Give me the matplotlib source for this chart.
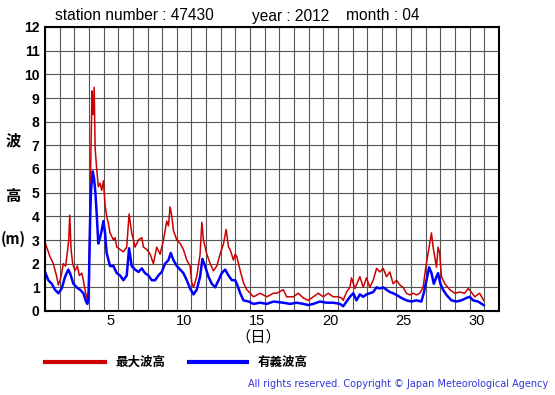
import numpy as np
import matplotlib.pyplot as plt

plt.rcParams['font.family'] = ['Liberation Sans', 'Noto Sans CJK JP', 'DejaVu Sans']

# days since 1 April 00:00 and wave heights (m)
max_day = [0.00, 0.34, 0.57, 0.80, 0.91, 1.03, 1.14, 1.25, 1.41, 1.55, 1.62, 1.69, 1.78,
           1.89, 2.05, 2.21, 2.35, 2.51, 2.62, 2.73, 2.85, 2.96, 3.03, 3.10, 3.16, 3.21,
           3.28, 3.36, 3.42, 3.53, 3.64, 3.76, 3.87, 3.99, 4.10, 4.21, 4.33, 4.44, 4.67,
           4.78, 4.90, 5.13, 5.35, 5.58, 5.74, 5.92, 6.04, 6.15, 6.38, 6.61, 6.72, 6.95,
           7.18, 7.40, 7.63, 7.86, 8.09, 8.31, 8.43, 8.54, 8.66, 8.77, 9.00, 9.23, 9.45,
           9.68, 9.91, 10.02, 10.14, 10.36, 10.59, 10.71, 10.82, 11.05, 11.28, 11.50,
           11.73, 11.96, 12.19, 12.37, 12.53, 12.64, 12.87, 12.98, 13.10, 13.33, 13.55,
           13.78, 14.01, 14.24, 14.69, 15.15, 15.60, 15.82, 16.27, 16.50, 16.95, 17.30,
           17.64, 17.98, 18.32, 18.66, 19.00, 19.34, 19.68, 20.02, 20.25, 20.36, 20.59,
           20.82, 20.93, 21.16, 21.50, 21.73, 21.95, 22.18, 22.41, 22.64, 22.86, 23.09,
           23.32, 23.55, 23.77, 24.00, 24.23, 24.45, 24.68, 24.91, 25.14, 25.36, 25.59,
           25.82, 26.00, 26.16, 26.27, 26.39, 26.50, 26.61, 26.73, 26.84, 26.95, 27.07,
           27.30, 27.64, 27.98, 28.32, 28.66, 28.89, 29.11, 29.34, 29.68, 29.95]
max_height = [2.9, 2.3, 2.0, 1.45, 1.1, 1.3, 1.6, 2.0, 1.9, 2.6, 3.0, 4.05, 2.6,
              2.0, 1.7, 1.9, 1.5, 1.6, 1.3, 0.9, 0.55, 0.8, 2.5, 5.5, 7.5, 9.3,
              8.3, 9.45, 6.9, 6.0, 5.25, 5.4, 5.1, 5.5, 4.5, 4.0, 3.7, 3.3, 3.0,
              3.1, 2.7, 2.6, 2.5, 2.7, 4.1, 3.3, 3.0, 2.7, 3.0, 3.1, 2.7, 2.6,
              2.4, 2.0, 2.7, 2.4, 3.0, 3.8, 3.6, 4.4, 4.0, 3.4, 3.0, 2.85, 2.6,
              2.15, 1.9, 1.2, 1.0, 1.45, 2.4, 3.75, 3.0, 2.4, 2.0, 1.7,
              1.9, 2.4, 2.85, 3.45, 2.7, 2.6, 2.15, 2.4, 2.3, 1.7, 1.2,
              0.9, 0.75, 0.6, 0.75, 0.6, 0.75, 0.75, 0.9, 0.6, 0.6, 0.75,
              0.55, 0.45, 0.6, 0.75, 0.6, 0.75, 0.6, 0.6, 0.55, 0.45, 0.8,
              1.0, 1.4, 0.95, 1.45, 1.0, 1.4, 1.0, 1.3, 1.8, 1.65, 1.8,
              1.45, 1.65, 1.15, 1.3, 1.1, 1.0, 0.75, 0.68, 0.75, 0.68, 0.75,
              1.0, 1.85, 2.45, 2.85, 3.3, 2.7, 2.3, 1.85, 2.7, 2.45, 1.45,
              1.15, 0.9, 0.75, 0.8, 0.75, 0.95, 0.8, 0.6, 0.75, 0.45]

sig_day = [0.00, 0.23, 0.46, 0.68, 0.91, 1.14, 1.37, 1.59, 1.71, 1.94, 2.16, 2.39, 2.62,
           2.80, 2.89, 2.98, 3.08, 3.14, 3.26, 3.35, 3.44, 3.53, 3.64, 3.76, 3.87, 3.99,
           4.10, 4.21, 4.44, 4.67, 4.90, 5.13, 5.35, 5.58, 5.74, 5.92, 6.15, 6.38, 6.61,
           6.83, 7.06, 7.29, 7.52, 7.74, 7.97, 8.20, 8.43, 8.59, 8.77, 9.00, 9.23, 9.45,
           9.68, 9.91, 10.14, 10.36, 10.59, 10.75, 10.93, 11.16, 11.39, 11.62, 11.85,
           12.07, 12.30, 12.53, 12.76, 12.98, 13.10, 13.33, 13.55, 13.90, 14.24, 14.69,
           15.15, 15.60, 16.27, 16.73, 17.18, 17.64, 17.98, 18.32, 18.77, 19.23, 19.68,
           20.14, 20.36, 20.59, 20.82, 21.05, 21.27, 21.50, 21.73, 21.95, 22.18, 22.41,
           22.64, 22.86, 23.09, 23.32, 23.55, 23.77, 24.00, 24.34, 24.68, 25.02, 25.36,
           25.70, 25.86, 26.05, 26.23, 26.39, 26.55, 26.73, 26.84, 27.00, 27.18, 27.41,
           27.75, 28.09, 28.43, 28.77, 29.00, 29.23, 29.57, 29.95]
sig_height = [1.65, 1.3, 1.15, 0.9, 0.75, 0.95, 1.45, 1.75, 1.6, 1.15, 1.0, 0.9, 0.75,
              0.4, 0.3, 0.6, 3.8, 5.1, 5.9, 5.6, 5.0, 4.1, 2.85, 3.1, 3.4, 3.8,
              3.3, 2.45, 1.9, 1.9, 1.6, 1.5, 1.3, 1.5, 2.65, 1.9, 1.75, 1.65, 1.8,
              1.6, 1.5, 1.3, 1.3, 1.5, 1.65, 2.0, 2.15, 2.45, 2.15, 1.9, 1.75, 1.6,
              1.3, 0.95, 0.7, 0.9, 1.45, 2.2, 1.9, 1.45, 1.15, 1.0, 1.3,
              1.6, 1.75, 1.5, 1.3, 1.3, 1.15, 0.75, 0.45, 0.4, 0.3, 0.35,
              0.3, 0.4, 0.35, 0.3, 0.35, 0.3, 0.25, 0.3, 0.4, 0.35, 0.35,
              0.3, 0.2, 0.4, 0.6, 0.75, 0.45, 0.7, 0.6, 0.7, 0.75, 0.8,
              1.0, 0.95, 1.0, 0.9, 0.8, 0.75, 0.68, 0.55, 0.45, 0.4, 0.45,
              0.4, 0.75, 1.3, 1.85, 1.6, 1.15, 1.45, 1.6, 1.15, 0.9, 0.68,
              0.45, 0.4, 0.45, 0.55, 0.6, 0.45, 0.4, 0.25]

day_labels = ["5", "10", "15", "20", "25", "30"]
day_label_pos = [4.5, 9.5, 14.5, 19.5, 24.5, 29.5]

fig = plt.figure(figsize=(5.55, 3.95), dpi=100)
ax = fig.add_axes([45 / 555, 1 - 311 / 395, 454 / 555, 284 / 395])

ax.plot(max_day, max_height, color="#cc0000", linewidth=1.1)
ax.plot(sig_day, sig_height, color="#0000ff", linewidth=1.8)

ax.set_xlim(0, 31)
ax.set_ylim(0, 12)
ax.set_xticks(day_label_pos)
ax.set_xticklabels(day_labels, fontsize=10.5)
ax.set_xticks(np.arange(0, 32), minor=True)
ax.set_yticks(np.arange(0, 13))
ax.set_yticklabels([str(v) for v in range(13)], fontsize=10, fontweight="bold")
ax.tick_params(which="both", length=0)
ax.tick_params(axis="x", pad=2)
ax.tick_params(axis="y", pad=4)

ax.grid(which="minor", axis="x", color="#555555", linewidth=0.8)
ax.grid(which="major", axis="y", color="#555555", linewidth=0.8)
ax.set_axisbelow(True)
for s in ax.spines.values():
    s.set_linewidth(1.5)
    s.set_color("black")

fig.text(55 / 555, 1 - 16 / 395, "station number : 47430", fontsize=11.2, va="center")
fig.text(252 / 555, 1 - 16 / 395, "year : 2012", fontsize=11.2, va="center")
fig.text(346 / 555, 1 - 16 / 395, "month : 04", fontsize=11.2, va="center")

fig.text(13 / 555, 1 - 141 / 395, "波", fontsize=11, fontweight="bold", ha="center", va="center")
fig.text(13 / 555, 1 - 197 / 395, "高", fontsize=11, fontweight="bold", ha="center", va="center")
fig.text(13 / 555, 1 - 239 / 395, "(m)", fontsize=10.5, fontweight="bold", ha="center", va="center",
         family=["Noto Sans CJK JP", "DejaVu Sans"])
fig.text(258 / 555, 1 - 337 / 395, "（日）", fontsize=11, ha="center", va="center",
         family=["Noto Sans CJK JP", "DejaVu Sans"])

# legend
fig.add_artist(plt.Line2D([45 / 555, 105 / 555], [1 - 362 / 395] * 2, color="#cc0000", linewidth=3))
fig.text(115 / 555, 1 - 363 / 395, "最大波高", fontsize=9, fontweight="bold", va="center")
fig.add_artist(plt.Line2D([189 / 555, 247 / 555], [1 - 362 / 395] * 2, color="#0000ff", linewidth=3))
fig.text(258 / 555, 1 - 363 / 395, "有義波高", fontsize=9, fontweight="bold", va="center")

fig.text(548 / 555, 1 - 384 / 395, "All rights reserved. Copyright © Japan Meteorological Agency",
         fontsize=7, color="#3333dd", ha="right", va="center", family="DejaVu Sans")

fig.savefig("out.png", dpi=100)
